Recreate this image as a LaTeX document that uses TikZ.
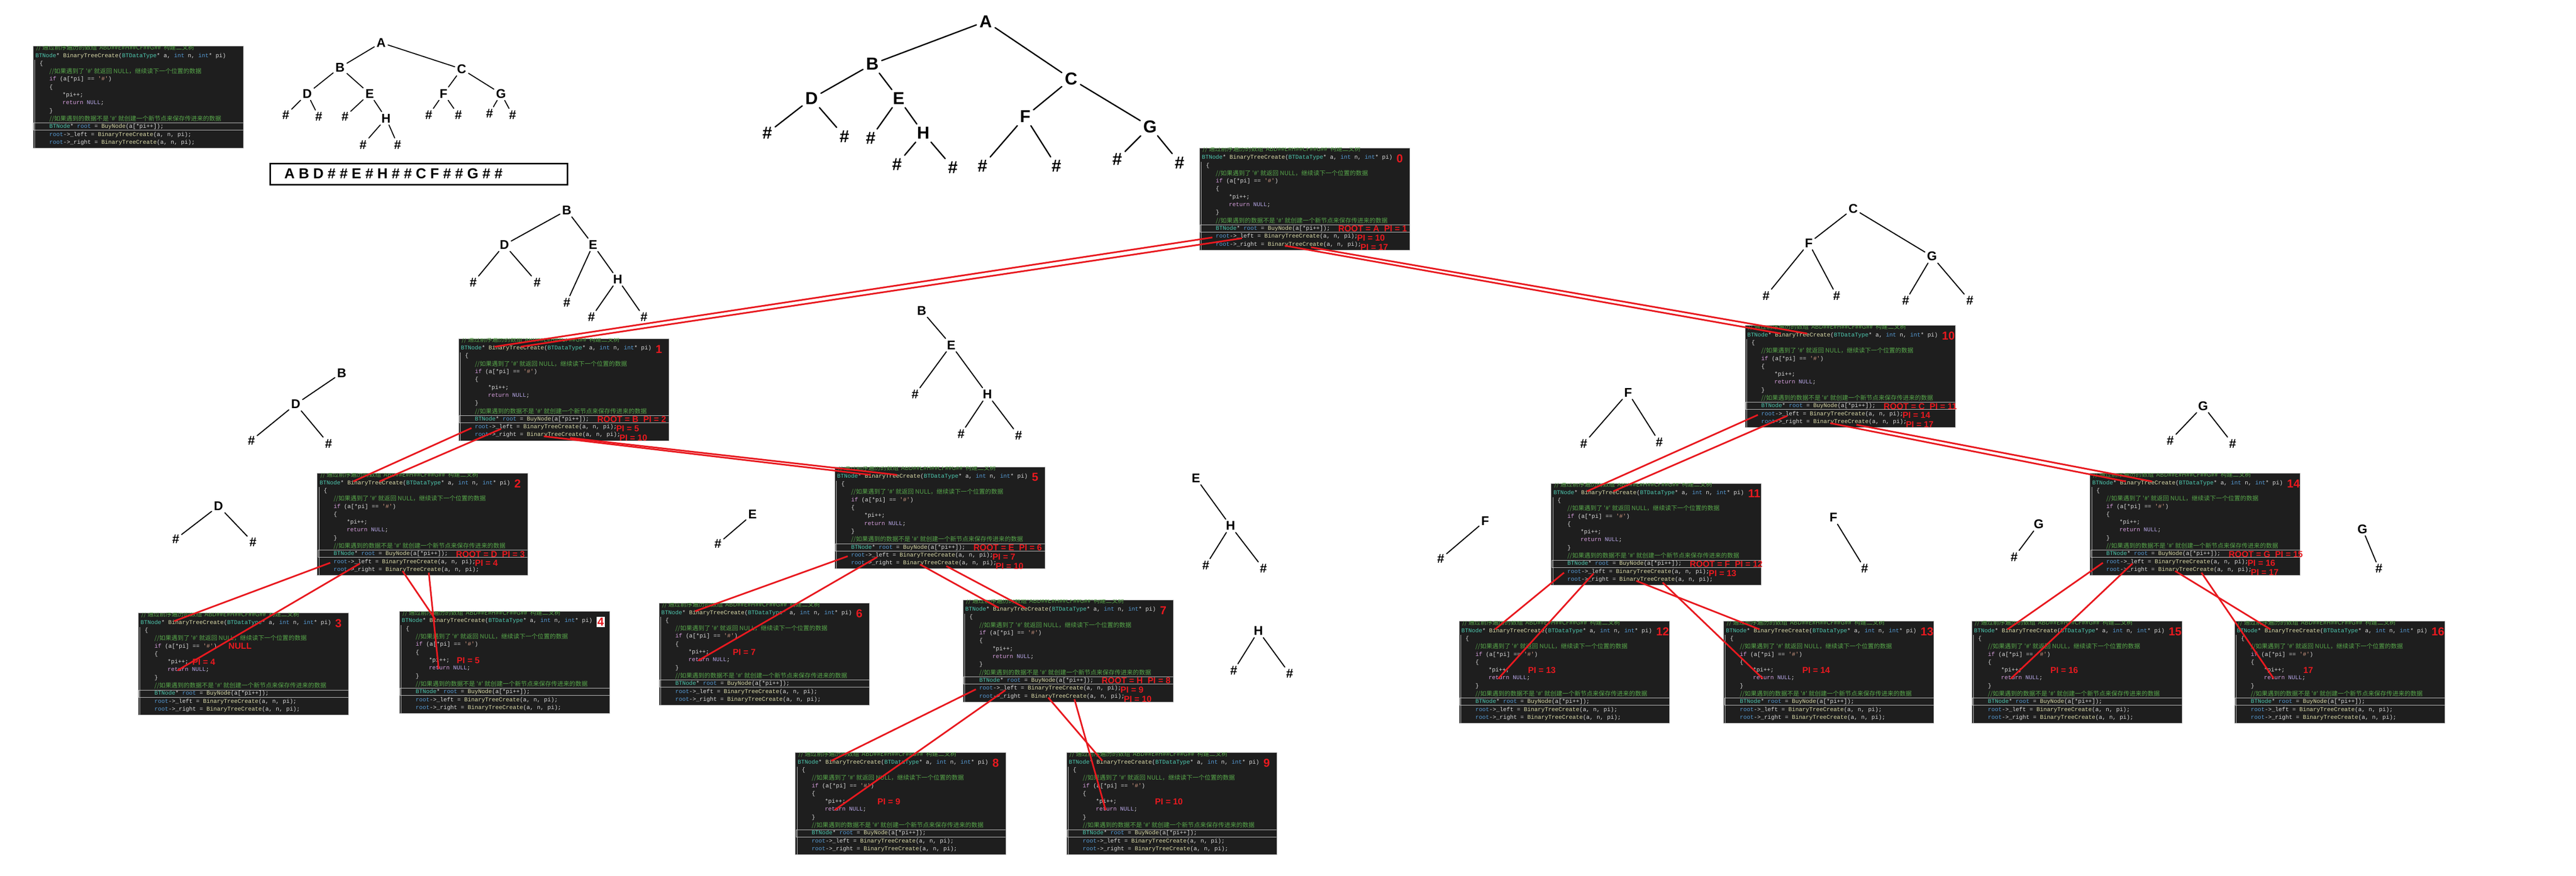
\documentclass[tikz,border=0pt]{standalone}
\usepackage{fontspec}
\newfontfamily\mono{Liberation Mono}
\newfontfamily\cjk{Noto Sans CJK SC}
\newfontfamily\lab{Liberation Sans}
\definecolor{codebg}{HTML}{1E1E1E}
\definecolor{cwhite}{HTML}{DCDCDC}
\definecolor{cgreen}{HTML}{57A64A}
\definecolor{cteal}{HTML}{4EC9B0}
\definecolor{cyel}{HTML}{DCDCAA}
\definecolor{cblue}{HTML}{569CD6}
\definecolor{cpur}{HTML}{D8A0DF}
\definecolor{cnull}{HTML}{B8A8E8}
\definecolor{corg}{HTML}{D69D85}
\definecolor{lred}{HTML}{E8191F}
\tikzset{
 cbg/.style={fill=codebg, draw=gray!60, line width=0.3mm, minimum width=128mm, minimum height=62mm, inner sep=0pt, anchor=north west},
 cl/.style={anchor=west, inner sep=0pt, text=cwhite, font=\mono\fontsize{10}{11}\selectfont},
 cc/.style={anchor=west, inner sep=0pt, text=cgreen, font=\cjk\fontsize{10.5}{11}\selectfont},
 rl/.style={anchor=west, inner sep=0pt, text=lred, font=\lab\bfseries\fontsize{15}{15}\selectfont},
 rn/.style={anchor=west, inner sep=0pt, text=lred, font=\lab\bfseries\fontsize{20}{20}\selectfont},
 big/.style={font=\lab\bfseries\fontsize{30}{30}\selectfont, inner sep=1.8mm},
 sm/.style={font=\lab\bfseries\fontsize{22}{22}\selectfont, inner sep=1.3mm},
 te/.style={line width=0.8mm, line cap=round},
 rc/.style={draw=lred, line width=1mm},
}
\newcommand\cbox[3]{%
 \node[cbg] (#1) at (#2,#3) {};
 \begin{scope}[shift={(#1.north west)}]
  \clip (0,0) rectangle (128,62);
  \draw[gray!45, line width=0.25mm] (1.2,8.5) -- (1.2,62);
  \draw[gray!45, line width=0.3mm] (0.6,46.9) rectangle (128.5,51.3);
  \node[cc] at (2,0.9) {// 通过前序遍历的数组"ABD\#\#E\#H\#\#CF\#\#G\#\#"构建二叉树};
  \node[cl] at (1.5,5.9) {\textcolor{cteal}{BTNode}* \textcolor{cyel}{BinaryTreeCreate}(\textcolor{cteal}{BTDataType}* a, \textcolor{cblue}{int} n, \textcolor{cblue}{int}* pi)};
  \node[cl] at (4,10.7) {\{};
  \node[cc] at (10,15.5) {//如果遇到了 '\#' 就返回 NULL，继续读下一个位置的数据};
  \node[cl] at (10,20.3) {\textcolor{cpur}{if} (a[*pi] == \textcolor{corg}{'\#'})};
  \node[cl] at (10,25.1) {\{};
  \node[cl] at (18,29.9) {*pi++;};
  \node[cl] at (18,34.7) {\textcolor{cpur}{return} \textcolor{cnull}{NULL};};
  \node[cl] at (10,39.5) {\}};
  \node[cc] at (10,44.3) {//如果遇到的数据不是 '\#' 就创建一个新节点来保存传进来的数据};
  \node[cl] at (10,49.1) {\textcolor{cteal}{BTNode}* \textcolor{cblue}{root} = \textcolor{cyel}{BuyNode}(a[*pi++]);};
  \node[cl] at (10,53.9) {\textcolor{cblue}{root}->\_left = \textcolor{cyel}{BinaryTreeCreate}(a, n, pi);};
  \node[cl] at (10,58.7) {\textcolor{cblue}{root}->\_right = \textcolor{cyel}{BinaryTreeCreate}(a, n, pi);};
 \end{scope}
 \begin{scope}[shift={(#1.north west)}]
  \coordinate (#1-la) at (8,54.5);
  \coordinate (#1-lb) at (26,55);
  \coordinate (#1-ra) at (52,59.5);
  \coordinate (#1-rb) at (68,60.5);
  \coordinate (#1-ta) at (22,5);
  \coordinate (#1-tb) at (38,5);
  \coordinate (#1-n) at (24,35);
 \end{scope}}
\newcommand\bnum[2]{\begin{scope}[shift={(#1.north west)}]\node[rn] at (120,6.5) {#2};\end{scope}}
\newcommand\ilab[4]{\begin{scope}[shift={(#1.north west)}]
 \node[rl] at (84.5,49.3) {#2};
 \node[rl] at (96,54.8) {#3};
 \node[rl] at (98,60.4) {#4};\end{scope}}
\newcommand\llab[3]{\begin{scope}[shift={(#1.north west)}]\node[rl] at (#2,30) {#3};\end{scope}}
\newcommand\leafc[2]{\draw[rc] (#1-la) -- (#2-ta); \draw[rc] (#2-n) -- (#1-lb);}
\newcommand\leafcr[2]{\draw[rc] (#1-ra) -- (#2-ta); \draw[rc] (#2-n) -- (#1-rb);}
\begin{document}
\begin{tikzpicture}[x=1mm,y=-1mm]
\useasboundingbox[fill=white] (0,0) rectangle (1568,533);

\cbox{btl}{20}{28}

\node[draw=black, line width=0.9mm, minimum width=181mm, minimum height=13mm, anchor=north west, inner sep=0pt] (seq) at (164,99) {};
\node[anchor=west, font=\lab\bfseries\fontsize{25}{25}\selectfont, inner sep=0pt] (seqt) at (173,105.5) {A B D \# \# E \# H \# \# C F \# \# G \# \#};

\begin{scope}[every node/.style={sm}]
\node (sA) at (232,26) {A}; \node (sB) at (207,41) {B}; \node (sC) at (281,42) {C};
\node (sD) at (187,57) {D}; \node (sE) at (225,57) {E}; \node (sF) at (270,57) {F}; \node (sG) at (305,57) {G};
\node (sD1) at (174,70) {\#}; \node (sD2) at (194,71) {\#}; \node (sE1) at (210,71) {\#}; \node (sH) at (235,72) {H};
\node (sH1) at (221,88) {\#}; \node (sH2) at (242,88) {\#};
\node (sF1) at (261,70) {\#}; \node (sF2) at (279,70) {\#}; \node (sG1) at (298,69) {\#}; \node (sG2) at (312,70) {\#};
\end{scope}
\foreach \a/\b in {sA/sB,sA/sC,sB/sD,sB/sE,sC/sF,sC/sG,sD/sD1,sD/sD2,sE/sE1,sE/sH,sH/sH1,sH/sH2,sF/sF1,sF/sF2,sG/sG1,sG/sG2}
 \draw[te,line width=0.6mm] (\a) -- (\b);

\begin{scope}[every node/.style={big}]
\node (bA) at (600,13) {A}; \node (bB) at (531,39) {B}; \node (bC) at (652,48) {C};
\node (bD) at (494,60) {D}; \node (bE) at (547,60) {E}; \node (bF) at (624,71) {F}; \node (bG) at (700,77) {G};
\node (bH) at (562,81) {H};
\node (bD1) at (467,81) {\#}; \node (bD2) at (514,83) {\#}; \node (bE1) at (530,84) {\#};
\node (bH1) at (546,100) {\#}; \node (bH2) at (580,102) {\#};
\node (bF1) at (598,101) {\#}; \node (bF2) at (643,101) {\#};
\node (bG1) at (680,97) {\#}; \node (bG2) at (718,99) {\#};
\end{scope}
\foreach \a/\b in {bA/bB,bA/bC,bB/bD,bB/bE,bC/bF,bC/bG,bD/bD1,bD/bD2,bE/bE1,bE/bH,bH/bH1,bH/bH2,bF/bF1,bF/bF2,bG/bG1,bG/bG2}
 \draw[te] (\a) -- (\b);

\begin{scope}[every node/.style={sm}]
\node (t1B) at (345,128) {B}; \node (t1D) at (307,149) {D}; \node (t1E) at (361,149) {E};
\node (t1D1) at (288,172) {\#}; \node (t1D2) at (327,172) {\#}; \node (t1E1) at (345,184) {\#}; \node (t1H) at (376,170) {H};
\node (t1H1) at (360,193) {\#}; \node (t1H2) at (392,193) {\#};
\node (t2C) at (1128,127) {C}; \node (t2F) at (1101,148) {F}; \node (t2G) at (1176,156) {G};
\node (t2F1) at (1075,180) {\#}; \node (t2F2) at (1118,180) {\#}; \node (t2G1) at (1160,183) {\#}; \node (t2G2) at (1199,183) {\#};
\node (t3B) at (561,189) {B}; \node (t3E) at (579,210) {E}; \node (t3E1) at (557,240) {\#}; \node (t3H) at (601,240) {H};
\node (t3H1) at (585,264) {\#}; \node (t3H2) at (620,265) {\#};
\node (t4B) at (208,227) {B}; \node (t4D) at (180,246) {D}; \node (t4D1) at (153,268) {\#}; \node (t4D2) at (200,270) {\#};
\node (t5D) at (133,308) {D}; \node (t5D1) at (107,328) {\#}; \node (t5D2) at (154,330) {\#};
\node (t6E) at (458,313) {E}; \node (t6E1) at (437,331) {\#};
\node (t7E) at (728,291) {E}; \node (t7H) at (749,320) {H}; \node (t7H1) at (734,344) {\#}; \node (t7H2) at (769,346) {\#};
\node (t8H) at (766,384) {H}; \node (t8H1) at (751,408) {\#}; \node (t8H2) at (785,410) {\#};
\node (t9F) at (991,239) {F}; \node (t9F1) at (964,270) {\#}; \node (t9F2) at (1010,269) {\#};
\node (taF) at (904,317) {F}; \node (taF1) at (877,340) {\#};
\node (tbF) at (1116,315) {F}; \node (tbF1) at (1135,346) {\#};
\node (tcG) at (1341,247) {G}; \node (tcG1) at (1321,268) {\#}; \node (tcG2) at (1359,270) {\#};
\node (tdG) at (1241,319) {G}; \node (tdG1) at (1226,339) {\#};
\node (teG) at (1438,322) {G}; \node (teG1) at (1448,346) {\#};
\end{scope}
\foreach \a/\b in {t1B/t1D,t1B/t1E,t1D/t1D1,t1D/t1D2,t1E/t1E1,t1E/t1H,t1H/t1H1,t1H/t1H2,
 t2C/t2F,t2C/t2G,t2F/t2F1,t2F/t2F2,t2G/t2G1,t2G/t2G2,
 t3B/t3E,t3E/t3E1,t3E/t3H,t3H/t3H1,t3H/t3H2,
 t4B/t4D,t4D/t4D1,t4D/t4D2,t5D/t5D1,t5D/t5D2,t6E/t6E1,
 t7E/t7H,t7H/t7H1,t7H/t7H2,t8H/t8H1,t8H/t8H2,
 t9F/t9F1,t9F/t9F2,taF/taF1,tbF/tbF1,tcG/tcG1,tcG/tcG2,tdG/tdG1,teG/teG1}
 \draw[te,line width=0.65mm] (\a) -- (\b);

\cbox{b0}{730}{90}
\cbox{b1}{279}{206}
\cbox{b10}{1062}{198}
\cbox{b2}{193}{288}
\cbox{b5}{508}{284}
\cbox{b11}{944}{294}
\cbox{b14}{1272}{288}
\cbox{b3}{84}{373}
\cbox{b4}{243}{372}
\cbox{b6}{401}{367}
\cbox{b7}{586}{365}
\cbox{b8}{484}{458}
\cbox{b9}{649}{458}
\cbox{b12}{888}{378}
\cbox{b13}{1049}{378}
\cbox{b15}{1200}{378}
\cbox{b16}{1360}{378}

\draw[rc] (b0-la) -- (b1-ta); \draw[rc] (b0-lb) -- (b1-tb);
\draw[rc] (b0-ra) -- (b10-ta); \draw[rc] (b0-rb) -- (b10-tb);
\draw[rc] (b1-la) -- (b2-ta); \draw[rc] (b1-lb) -- (b2-tb);
\draw[rc] (b1-ra) -- (b5-ta); \draw[rc] (b1-rb) -- (b5-tb);
\leafc{b2}{b3} \leafcr{b2}{b4}
\leafc{b5}{b6}
\draw[rc] (b5-ra) -- (b7-ta); \draw[rc] (b5-rb) -- (b7-tb);
\leafc{b7}{b8} \leafcr{b7}{b9}
\draw[rc] (b10-la) -- (b11-ta); \draw[rc] (b10-lb) -- (b11-tb);
\draw[rc] (b10-ra) -- (b14-ta); \draw[rc] (b10-rb) -- (b14-tb);
\leafc{b11}{b12} \leafcr{b11}{b13}
\leafc{b14}{b15} \leafcr{b14}{b16}

\bnum{b0}{0} \bnum{b1}{1} \bnum{b2}{2} \bnum{b3}{3} \bnum{b5}{5} \bnum{b6}{6} \bnum{b7}{7}
\bnum{b8}{8} \bnum{b9}{9} \bnum{b10}{10} \bnum{b11}{11} \bnum{b12}{12} \bnum{b13}{13}
\bnum{b14}{14} \bnum{b15}{15} \bnum{b16}{16}
\begin{scope}[shift={(b4.north west)}]\node[rn, fill=white, inner sep=0.6mm] at (120,6.5) {4};\end{scope}
\ilab{b0}{ROOT = A \ PI = 1}{PI = 10}{PI = 17}
\ilab{b1}{ROOT = B \ PI = 2}{PI = 5}{PI = 10}
\ilab{b2}{ROOT = D \ PI = 3}{PI = 4}{}
\ilab{b5}{ROOT = E \ PI = 6}{PI = 7}{PI = 10}
\ilab{b7}{ROOT = H \ PI = 8}{PI = 9}{PI = 10}
\ilab{b10}{ROOT = C \ PI = 11}{PI = 14}{PI = 17}
\ilab{b11}{ROOT = F \ PI = 12}{PI = 13}{}
\ilab{b14}{ROOT = G \ PI = 15}{PI = 16}{PI = 17}
\begin{scope}[shift={(b3.north west)}]\node[rl] at (55,20.3) {NULL};\end{scope}
\llab{b3}{33}{PI = 4}
\llab{b4}{35}{PI = 5}
\llab{b6}{45}{PI = 7}
\llab{b8}{50}{PI = 9}
\llab{b9}{54}{PI = 10}
\llab{b12}{42}{PI = 13}
\llab{b13}{48}{PI = 14}
\llab{b15}{48}{PI = 16}
\llab{b16}{42}{17}
\end{tikzpicture}
\end{document}
